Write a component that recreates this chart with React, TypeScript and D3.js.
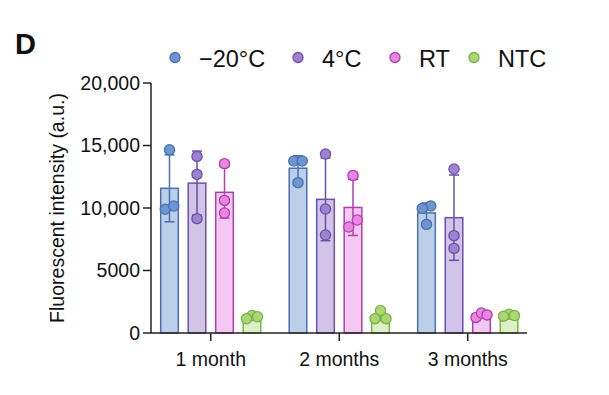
import React from 'react'
import * as d3 from 'd3'

// storage time points and conditions
const groups = ['1 month', '2 months', '3 months']
const series = ['\u221220\u00b0C', '4\u00b0C', 'RT', 'NTC']

// replicate values (a.u.), one array per condition, three replicates per time point
const minus20 = [[14660, 9900, 10160], [13760, 13760, 12030], [10160, 9970, 8690]]
const fourC = [[14130, 12690, 9150], [14320, 9920, 7840], [13120, 7790, 6770]]
const roomT = [[13550, 10610, 9600], [12610, 9040, 8480], [1250, 1600, 1450]]
const ntc = [[1400, 1150, 1300], [1800, 1150, 1150], [1500, 1400, 1350]]

const yTicks = [0, 5000, 10000, 15000, 20000]

const seriesData = [minus20, fourC, roomT, ntc]
const fills = ['#bccfe9', '#d0c4e7', '#f3c9f1', '#ddefc6']
const strokes = ['#4c6fb0', '#6c4fad', '#b23dae', '#7cb247']
const dots = ['#6d95d2', '#9d83cf', '#e886e2', '#a9d774']

const W = 609
const H = 395
const axisLeft = 151
const axisRight = 527
const font = 'Liberation Sans, Arial, sans-serif'
const R = 5.1

const fmt = (v: number) => (v >= 10000 ? d3.format(',')(v) : String(v))

// spread points that would overlap; in a trio the highest sits in the middle
function swarm(vals: number[], y: d3.ScaleLinear<number, number>) {
  const idx = vals.map((v, i) => i).sort((a, b) => vals[a] - vals[b])
  const offs = new Array(vals.length).fill(0)
  let cluster: number[] = []
  const flush = () => {
    const n = cluster.length
    if (n === 2) {
      cluster.forEach((k, j) => { offs[k] = (j - 0.5) * 8.5 })
    } else if (n === 3) {
      offs[cluster[0]] = -5.5
      offs[cluster[1]] = 5.5
      offs[cluster[2]] = 0
    }
    cluster = []
  }
  idx.forEach((k) => {
    if (cluster.length && Math.abs(y(vals[k]) - y(vals[cluster[cluster.length - 1]])) >= 2 * R) flush()
    cluster.push(k)
  })
  flush()
  return offs
}

export default function App() {
  const x = d3.scaleBand<string>().domain(groups).range([146.5, 532])
  const xi = d3.scaleBand<string>().domain(series).range([-55, 55]).paddingInner(0.36).paddingOuter(0.18)
  const y = d3.scaleLinear().domain([0, 20000]).range([333, 83])

  const legendX = [175, 298, 395, 474]

  return (
    <svg width={W} height={H} style={{ position: 'absolute', left: 0, top: 0 }} fontFamily={font}>
      <text x={15} y={54} fontSize={29} fontWeight="bold" fill="#111">D</text>

      {series.map((s, i) => (
        <g key={s}>
          <circle cx={legendX[i]} cy={57.5} r={5} fill={dots[i]} stroke={strokes[i]} strokeWidth={1.3} />
          <text x={legendX[i] + 24} y={66.5} fontSize={23.5} fill="#111">{s}</text>
        </g>
      ))}

      {seriesData.map((sd, si) =>
        groups.map((g, gi) => {
          const vals = sd[gi]
          const m = d3.mean(vals) as number
          const sdv = d3.deviation(vals) as number
          const cx = (x(g) as number) + x.bandwidth() / 2 + (xi(series[si]) as number) + xi.bandwidth() / 2
          const bw = xi.bandwidth()
          const offs = swarm(vals, y)
          return (
            <g key={g + si}>
              <rect x={cx - bw / 2} y={y(m)} width={bw} height={y(0) - y(m)}
                fill={fills[si]} stroke={strokes[si]} strokeWidth={1.5} />
              <line x1={cx} x2={cx} y1={y(m + sdv)} y2={y(m - sdv)} stroke={strokes[si]} strokeWidth={1.5} />
              <line x1={cx - 5} x2={cx + 5} y1={y(m + sdv)} y2={y(m + sdv)} stroke={strokes[si]} strokeWidth={1.5} />
              <line x1={cx - 5} x2={cx + 5} y1={y(m - sdv)} y2={y(m - sdv)} stroke={strokes[si]} strokeWidth={1.5} />
              {vals.map((v, k) => (
                <circle key={k} cx={cx + offs[k]} cy={y(v)} r={R}
                  fill={dots[si]} stroke={strokes[si]} strokeWidth={1.3} />
              ))}
            </g>
          )
        })
      )}

      {/* y axis */}
      <line x1={axisLeft} x2={axisLeft} y1={y(20000)} y2={y(0)} stroke="#222" strokeWidth={1.5} />
      {yTicks.map((t) => (
        <g key={t}>
          <line x1={axisLeft - 8} x2={axisLeft} y1={y(t)} y2={y(t)} stroke="#222" strokeWidth={1.5} />
          <text x={axisLeft - 11} y={y(t)} dy="0.35em" textAnchor="end" fontSize={19.5} fill="#111">{fmt(t)}</text>
        </g>
      ))}
      <text transform={`translate(64,${y(10000)}) rotate(-90)`} textAnchor="middle" fontSize={19.5} fill="#111">
        Fluorescent intensity (a.u.)
      </text>

      {/* x axis */}
      <line x1={axisLeft} x2={axisRight} y1={y(0)} y2={y(0)} stroke="#222" strokeWidth={1.5} />
      {groups.map((g) => {
        const c = (x(g) as number) + x.bandwidth() / 2
        return (
          <g key={g}>
            <line x1={c} x2={c} y1={y(0)} y2={y(0) + 8} stroke="#222" strokeWidth={1.5} />
            <text x={c} y={366} textAnchor="middle" fontSize={19.5} fill="#111">{g}</text>
          </g>
        )
      })}
    </svg>
  )
}
